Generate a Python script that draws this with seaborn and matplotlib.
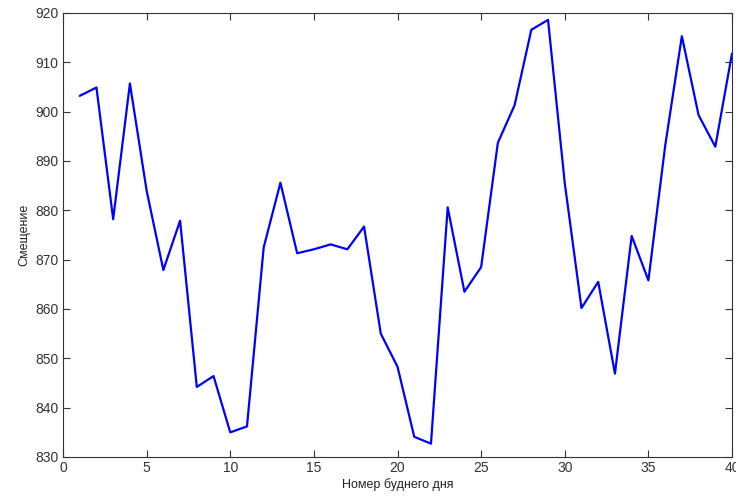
import matplotlib
matplotlib.use("Agg")
import matplotlib.pyplot as plt
import seaborn as sns
import pandas as pd

days = list(range(1, 41))
offset = [903.2, 904.9, 878.2, 905.7, 884.0, 867.9, 877.9, 844.2, 846.4, 835.0,
          836.2, 872.5, 885.6, 871.3, 872.1, 873.1, 872.1, 876.7, 855.0, 848.3,
          834.1, 832.7, 880.6, 863.5, 868.5, 893.7, 901.3, 916.6, 918.6, 885.5,
          860.2, 865.5, 846.9, 874.8, 865.8, 893.0, 915.3, 899.3, 892.9, 911.8]
xticks = [0, 5, 10, 15, 20, 25, 30, 35, 40]
yticks = [830, 840, 850, 860, 870, 880, 890, 900, 910, 920]
xlabel = "Номер буднего дня"
ylabel = "Смещение"

df = pd.DataFrame({"day": days, "offset": offset})

sns.set_style("ticks")
plt.rcParams['font.family'] = ['Liberation Sans', 'DejaVu Sans']

fig = plt.figure(figsize=(7.36, 5.00), dpi=100)
ax = fig.add_axes([0.0856, 0.086, 0.9090, 0.888])
sns.lineplot(data=df, x="day", y="offset", ax=ax, color="#0000ff", linewidth=1.6)

ax.set_xlim(0, 40)
ax.set_ylim(830, 920)
ax.set_xticks(xticks)
ax.set_yticks(yticks)
ax.set_xlabel(xlabel, fontsize=9, color="#222222", labelpad=2)
ax.set_ylabel(ylabel, fontsize=9, color="#222222", labelpad=4)
ax.tick_params(direction="in", top=True, right=True, length=5, width=0.8,
               labelsize=10, colors="#333333", pad=3)
for s in ax.spines.values():
    s.set_color("#333333")
    s.set_linewidth(0.8)
    s.set_visible(True)

fig.savefig("out.png", dpi=100)
